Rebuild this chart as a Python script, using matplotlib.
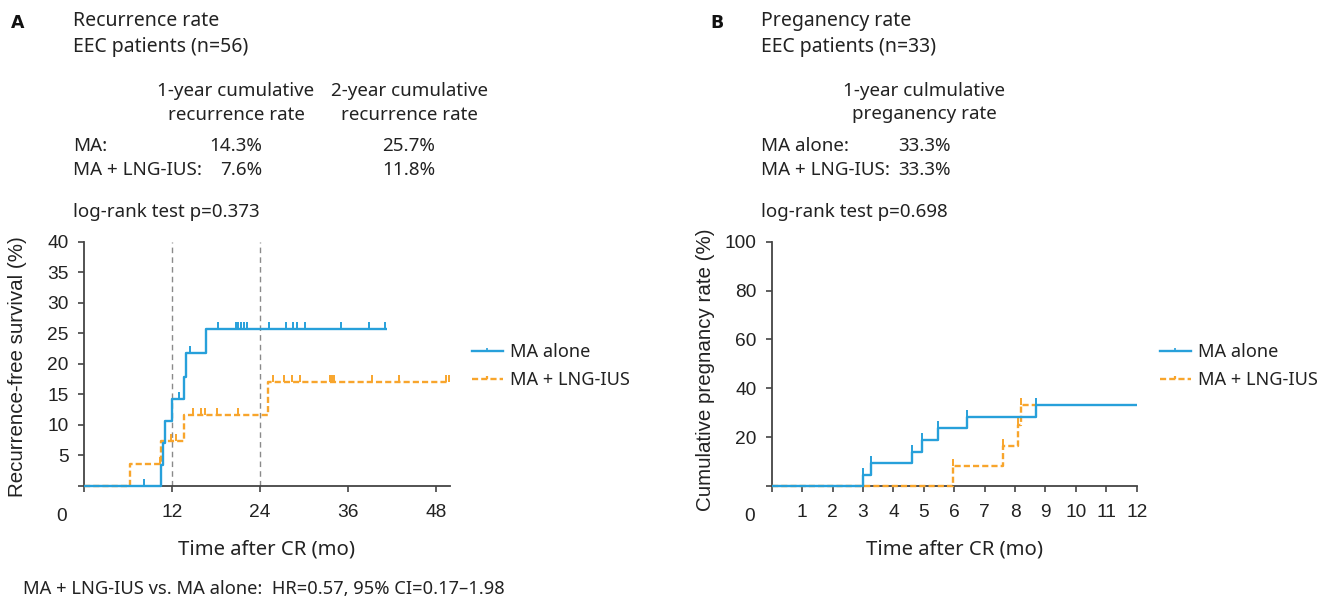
import numpy as np
import matplotlib
matplotlib.use("Agg")
import matplotlib.pyplot as plt
from matplotlib.path import Path
from matplotlib.lines import Line2D

# ---------------- data ----------------
# Panel A: recurrence (months, %)
a_blue_t = [0, 10.45, 10.8, 11.05, 12.0, 13.7, 13.9, 16.7, 41.3]
a_blue_v = [0, 3.4, 7.1, 10.6, 14.2, 17.9, 21.7, 25.7, 25.7]
a_blue_cens = [8.2, 13.0, 14.5, 18.3, 20.7, 21.0, 21.4, 21.8, 22.2, 25.2,
               27.5, 28.5, 29.1, 30.1, 35.0, 38.8, 41.0]
a_orng_t = [0, 6.3, 10.45, 13.6, 25.1, 49.8]
a_orng_v = [0, 3.6, 7.4, 11.6, 17.1, 17.1]
a_orng_cens = [10.3, 11.0, 11.8, 12.6, 14.9, 16.0, 16.5, 18.2, 21.0, 25.8,
               27.3, 28.4, 29.5, 33.5, 33.8, 34.1, 39.2, 42.9, 49.4, 49.7]
a_xticks = [0, 12, 24, 36, 48]
a_yticks = [0, 5, 10, 15, 20, 25, 30, 35, 40]
a_ref_lines = [12, 24]

# Panel B: pregnancy (months, %)
b_blue_t = [0, 2.99, 3.27, 4.6, 4.93, 5.48, 6.41, 8.69, 12.0]
b_blue_v = [0, 4.5, 9.5, 14.0, 19.0, 23.6, 28.4, 33.2, 33.2]
b_blue_cens = [2.99, 3.27, 4.6, 4.93, 5.48, 6.41, 8.69]
b_orng_t = [0, 5.97, 7.6, 8.1, 8.2, 8.7]
b_orng_v = [0, 8.0, 16.5, 25.0, 33.3, 33.3]
b_orng_cens = [5.97, 7.6, 8.1, 8.2]
b_xticks = list(range(0, 13))
b_yticks = [0, 20, 40, 60, 80, 100]

series_labels = ["MA alone", "MA + LNG-IUS"]

# ---------------- style ----------------
W, H = 1328, 600
BLUE = "#27A0DA"
ORANGE = "#F8A52C"
AX_C = "#444444"
TXT = "#222222"
ANN_FONT = ["Noto Sans", "DejaVu Sans"]
TICK_FONT = ["Liberation Sans", "DejaVu Sans"]
ANN_SIZE = 13.5

fig = plt.figure(figsize=(W / 100, H / 100), dpi=100)
fig.patch.set_facecolor("white")


def fx(x):
    return x / W


def fy(y):
    return 1 - y / H


def ftext(x, y, s, **kw):
    kw.setdefault("family", ANN_FONT)
    kw.setdefault("fontsize", ANN_SIZE)
    kw.setdefault("color", TXT)
    kw.setdefault("va", "baseline")
    fig.text(fx(x), fy(y), s, **kw)


tick_up = Path([(0, 0), (0, 1)], [Path.MOVETO, Path.LINETO])


def step_val(ts, vs, t):
    i = np.searchsorted(ts, t, side="right") - 1
    return vs[i]


def km(ax, ts, vs, cens, color, dashed):
    ts = np.asarray(ts, float)
    vs = np.asarray(vs, float)
    ls = (0, (2.6, 1.3)) if dashed else "-"
    ax.plot(ts, vs, drawstyle="steps-post", color=color, lw=1.7, ls=ls,
            zorder=4, clip_on=False, solid_capstyle="butt")
    cy = [step_val(ts, vs, c) for c in cens]
    ax.plot(cens, cy, ls="none", marker=tick_up, ms=10.5, mew=1.4,
            color=color, zorder=4, clip_on=False)


def style_axes(ax, xticks, yticks):
    for s in ("top", "right"):
        ax.spines[s].set_visible(False)
    for s in ("left", "bottom"):
        ax.spines[s].set_color(AX_C)
        ax.spines[s].set_linewidth(1.3)
    ax.set_xticks(xticks)
    ax.set_yticks(yticks)
    ax.set_xticklabels(["" if t == 0 else str(t) for t in xticks])
    ax.set_yticklabels(["" if t == 0 else str(t) for t in yticks])
    ax.tick_params(axis="both", direction="out", length=4.5, width=1.2,
                   color=AX_C, labelsize=13.8, labelcolor=TXT)
    ax.tick_params(axis="x", pad=8.5)
    ax.tick_params(axis="y", pad=6.5)
    for lab in ax.get_xticklabels() + ax.get_yticklabels():
        lab.set_family(TICK_FONT)


def legend(ax, x0):
    handles = [
        Line2D([], [], color=BLUE, lw=1.7, marker=tick_up, ms=5, mew=1.2),
        Line2D([], [], color=ORANGE, lw=1.7, ls=(0, (2.6, 1.3)),
               marker=tick_up, ms=5, mew=1.6),
    ]
    leg = ax.legend(handles, series_labels, loc="center left",
                    bbox_to_anchor=(fx(x0), fy(366)),
                    bbox_transform=fig.transFigure, frameon=False,
                    borderpad=0, borderaxespad=0, handlelength=1.7,
                    handletextpad=0.38, labelspacing=0.55, numpoints=1,
                    prop={"family": ANN_FONT, "size": 13.1})
    for t in leg.get_texts():
        t.set_color(TXT)


# ---------------- Panel A ----------------
axA = fig.add_axes([fx(84), fy(486), (450 - 84) / W, (486 - 241.7) / H])
axA.set_xlim(0, 49.9)
axA.set_ylim(0, 40)
for xr in a_ref_lines:
    axA.axvline(xr, color="#8a8a8a", lw=1.0, ls=(0, (4, 3)), zorder=1)
km(axA, a_orng_t, a_orng_v, a_orng_cens, ORANGE, True)
km(axA, a_blue_t, a_blue_v, a_blue_cens, BLUE, False)
style_axes(axA, a_xticks, a_yticks)
legend(axA, 471.7)

# ---------------- Panel B ----------------
axB = fig.add_axes([fx(771.7), fy(486), (1136.7 - 771.7) / W, (486 - 241.7) / H])
axB.set_xlim(0, 12)
axB.set_ylim(0, 100)
km(axB, b_orng_t, b_orng_v, b_orng_cens, ORANGE, True)
km(axB, b_blue_t, b_blue_v, b_blue_cens, BLUE, False)
style_axes(axB, b_xticks, b_yticks)
legend(axB, 1160)

# corner "0" labels
for xc in (62, 750):
    fig.text(fx(xc), fy(521), "0", family=TICK_FONT, fontsize=13.8,
             color=TXT, ha="center", va="baseline")

# axis labels
fig.text(fx(18), fy(367), "Recurrence-free survival (%)", family=TICK_FONT,
         fontsize=14.8, color=TXT, rotation=90, ha="center", va="center")
fig.text(fx(705), fy(370), "Cumulative pregnancy rate (%)", family=TICK_FONT,
         fontsize=14.8, color=TXT, rotation=90, ha="center", va="center")
ftext(266, 555, "Time after CR (mo)", ha="center", fontsize=14.6)
ftext(954.5, 555, "Time after CR (mo)", ha="center", fontsize=14.6)

# ---------------- Panel A header ----------------
fig.text(fx(11), fy(27.5), "A", family=["DejaVu Sans"], fontsize=12.5,
         fontweight="heavy", color="#111111", va="baseline")
ftext(73, 26, "Recurrence rate", fontsize=14)
ftext(73, 51.7, "EEC patients (n=56)", fontsize=14)
ftext(236, 95.7, "1-year cumulative", ha="center")
ftext(236, 120, "recurrence rate", ha="center")
ftext(409.5, 95.7, "2-year cumulative", ha="center")
ftext(409.5, 120, "recurrence rate", ha="center")
ftext(73, 150.7, "MA:")
ftext(262, 150.7, "14.3%", ha="right")
ftext(435, 150.7, "25.7%", ha="right")
ftext(73, 175, "MA + LNG-IUS:")
ftext(262, 175, "7.6%", ha="right")
ftext(435, 175, "11.8%", ha="right")
ftext(73, 216.7, "log-rank test p=0.373")
ftext(23, 594, "MA + LNG-IUS vs. MA alone:  HR=0.57, 95% CI=0.17\u20131.98",
      fontsize=13.2)

# ---------------- Panel B header ----------------
fig.text(fx(710.5), fy(27.5), "B", family=["DejaVu Sans"], fontsize=12.5,
         fontweight="heavy", color="#111111", va="baseline")
ftext(761, 26, "Preganency rate", fontsize=14)
ftext(761, 51.7, "EEC patients (n=33)", fontsize=14)
ftext(924, 95.7, "1-year culmulative", ha="center")
ftext(924, 119.3, "preganency rate", ha="center")
ftext(761, 150.7, "MA alone:")
ftext(898.3, 150.7, "33.3%")
ftext(761, 175, "MA + LNG-IUS:")
ftext(898.3, 175, "33.3%")
ftext(761, 216.7, "log-rank test p=0.698")

fig.savefig("out.png", dpi=100, facecolor="white")
